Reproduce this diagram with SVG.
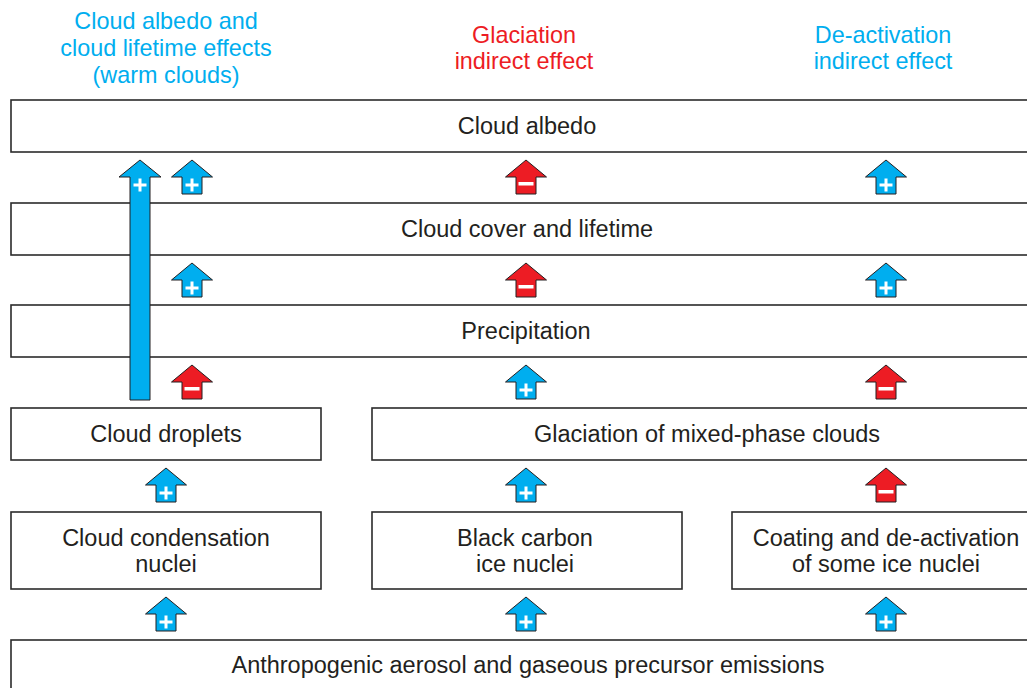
<svg xmlns="http://www.w3.org/2000/svg" xmlns:xlink="http://www.w3.org/1999/xlink" width="1027" height="688" viewBox="0 0 1027 688">
<style>
.box{fill:#fff;stroke:#2b2b2b;stroke-width:1.6}
.t{font-family:"Liberation Sans",Arial,sans-serif;font-size:23.5px;fill:#231f20;text-anchor:middle}
.h{font-family:"Liberation Sans",Arial,sans-serif;font-size:23.4px;text-anchor:middle}
.blue{fill:#00aeef}
.red{fill:#ed1c24}
.arr{stroke:#231f20;stroke-width:1}
.sgn{fill:#fff}
</style>
<defs>
<path id="ah" d="M0,0 L20.5,17 L10,17 L10,34 L-10,34 L-10,17 L-20.5,17 Z"/>
<g id="plus"><rect x="-6.5" y="23.5" width="13" height="3" class="sgn"/><rect x="-1.5" y="18.5" width="3" height="13" class="sgn"/></g>
<rect id="minus" x="-7.5" y="22" width="15" height="3.5" class="sgn"/>
</defs>
<g id="headings">
<text class="h blue" x="166" y="29">Cloud albedo and</text>
<text class="h blue" x="166" y="56">cloud lifetime effects</text>
<text class="h blue" x="166" y="83">(warm clouds)</text>
<text class="h red" x="524" y="43">Glaciation</text>
<text class="h red" x="524" y="69">indirect effect</text>
<text class="h blue" x="883" y="43">De-activation</text>
<text class="h blue" x="883" y="69">indirect effect</text>
</g>
<g id="node-albedo"><rect class="box" x="11" y="100" width="1030" height="52"/><text class="t" x="527" y="134">Cloud albedo</text></g>
<g id="node-cover"><rect class="box" x="11" y="203" width="1030" height="52"/><text class="t" x="527" y="237">Cloud cover and lifetime</text></g>
<g id="node-precip"><rect class="box" x="11" y="305" width="1030" height="52"/><text class="t" x="526" y="339">Precipitation</text></g>
<g id="node-droplets"><rect class="box" x="11" y="408" width="310" height="52"/><text class="t" x="166" y="442">Cloud droplets</text></g>
<g id="node-glaciation"><rect class="box" x="372" y="408" width="669" height="52"/><text class="t" x="707" y="442">Glaciation of mixed-phase clouds</text></g>
<g id="node-ccn"><rect class="box" x="11" y="512" width="310" height="77"/><text class="t" x="166" y="546">Cloud condensation</text><text class="t" x="166" y="572">nuclei</text></g>
<g id="node-bc"><rect class="box" x="372" y="512" width="310" height="77"/><text class="t" x="525" y="546">Black carbon</text><text class="t" x="525" y="572">ice nuclei</text></g>
<g id="node-coating"><rect class="box" x="732" y="512" width="310" height="77"/><text class="t" x="886" y="546">Coating and de-activation</text><text class="t" x="886" y="572">of some ice nuclei</text></g>
<g id="node-emissions"><rect class="box" x="11" y="640" width="1030" height="60"/><text class="t" x="528" y="673">Anthropogenic aerosol and gaseous precursor emissions</text></g>
<g id="connectors">
<path class="blue arr" d="M140,160 L161,177 L150,177 L150,400 L130,400 L130,177 L119,177 Z"/>
<use href="#plus" x="140" y="160"/>
<g transform="translate(192,160)"><use href="#ah" class="blue arr"/><use href="#plus"/></g>
<g transform="translate(526,160)"><use href="#ah" class="red arr"/><use href="#minus"/></g>
<g transform="translate(886,160)"><use href="#ah" class="blue arr"/><use href="#plus"/></g>
<g transform="translate(192,263)"><use href="#ah" class="blue arr"/><use href="#plus"/></g>
<g transform="translate(526,263)"><use href="#ah" class="red arr"/><use href="#minus"/></g>
<g transform="translate(886,263)"><use href="#ah" class="blue arr"/><use href="#plus"/></g>
<g transform="translate(192,365)"><use href="#ah" class="red arr"/><use href="#minus"/></g>
<g transform="translate(526,365)"><use href="#ah" class="blue arr"/><use href="#plus"/></g>
<g transform="translate(886,365)"><use href="#ah" class="red arr"/><use href="#minus"/></g>
<g transform="translate(166,468)"><use href="#ah" class="blue arr"/><use href="#plus"/></g>
<g transform="translate(526,468)"><use href="#ah" class="blue arr"/><use href="#plus"/></g>
<g transform="translate(886,468)"><use href="#ah" class="red arr"/><use href="#minus"/></g>
<g transform="translate(166,597)"><use href="#ah" class="blue arr"/><use href="#plus"/></g>
<g transform="translate(526,597)"><use href="#ah" class="blue arr"/><use href="#plus"/></g>
<g transform="translate(886,597)"><use href="#ah" class="blue arr"/><use href="#plus"/></g>
</g>
</svg>
